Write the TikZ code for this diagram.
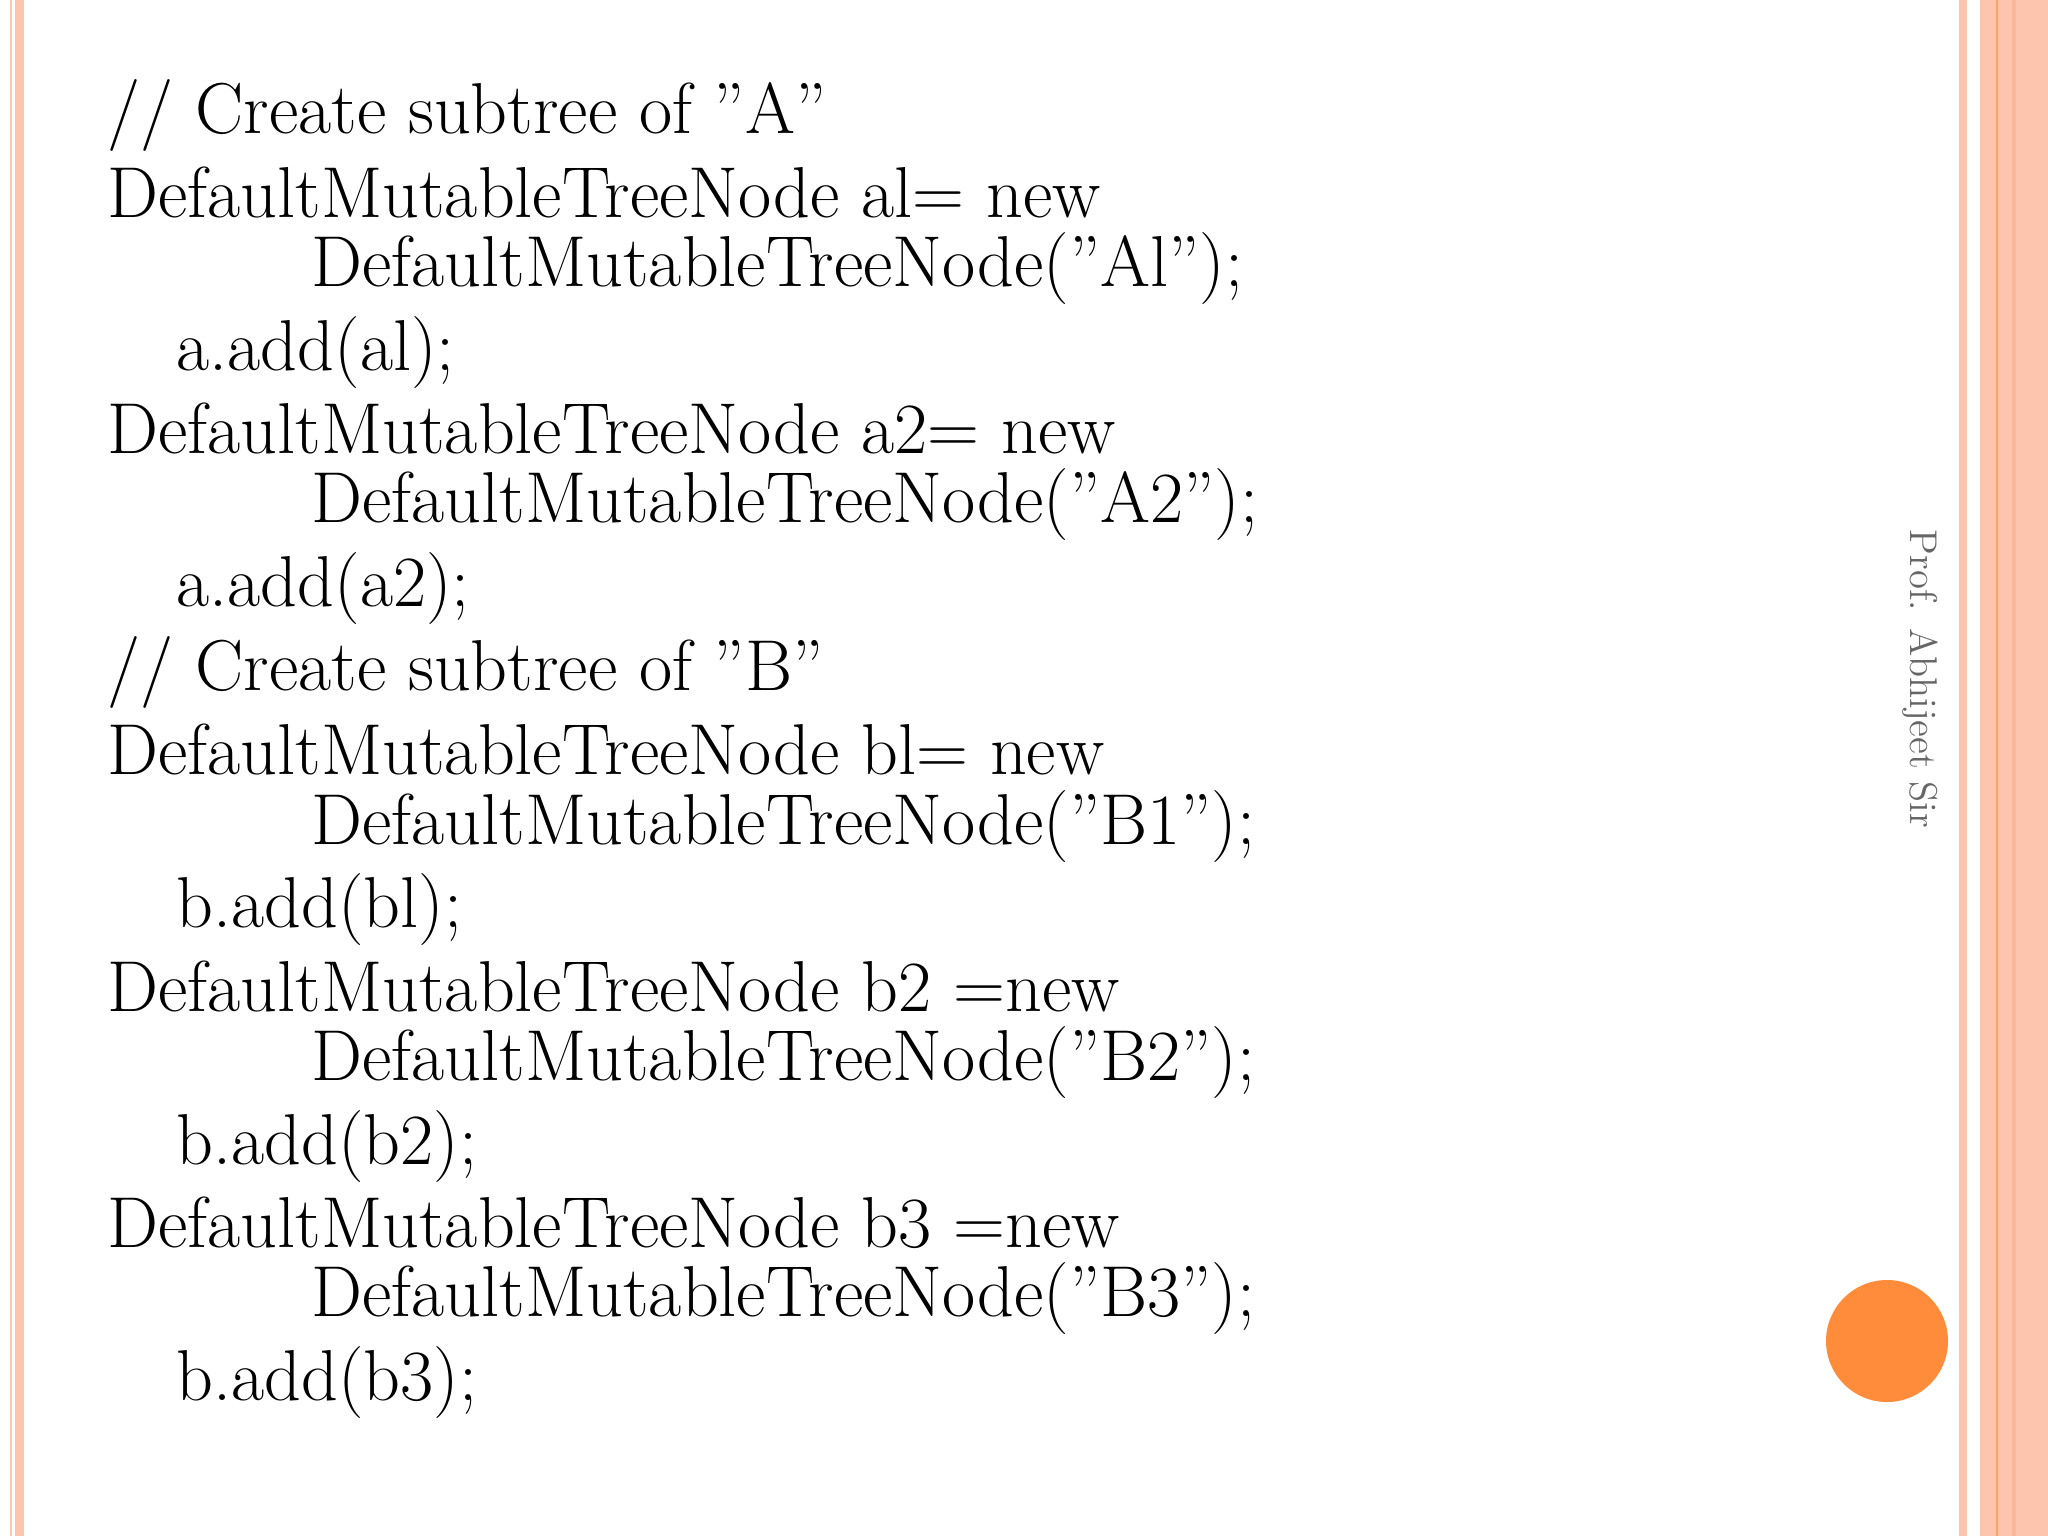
\documentclass[tikz,border=0pt]{standalone}
\usepackage{fontspec}
\definecolor{salm}{HTML}{FDC4AE}
\definecolor{salmd}{HTML}{FBB79C}
\definecolor{org}{HTML}{FF8C3A}
\newcommand{\q}{\symbol{34}}
\begin{document}
\begin{tikzpicture}[x=0.01cm,y=-0.01cm,
  code/.style={anchor=base west,inner sep=0pt,font=\fontsize{20.5}{24}\selectfont}]
\useasboundingbox (0,0) rectangle (2048,1536);
\fill[white] (0,0) rectangle (2048,1536);
\fill[salm] (10,0) rectangle (12,1536);
\fill[salm] (15,0) rectangle (24,1536);
\fill[salm] (1959,0) rectangle (1967,1536);
\fill[salm] (1980,0) rectangle (2048,1536);
\fill[org!80] (1996,0) rectangle (1998,1536);
\fill[salmd] (2012,0) rectangle (2016,1536);
\fill[org] (1887,1341) circle (61);
\node[rotate=-90,text=gray!80!black,font=\fontsize{11}{13}\selectfont] (sig) at (1920,679) {Prof. Abhijeet Sir};
\node[code] (l1) at (107,133) {// Create subtree of \q A\q};
\node[code] (l2) at (107,217) {DefaultMutableTreeNode al= new};
\node[code] (l3) at (311,286) {DefaultMutableTreeNode(\q Al\q);};
\node[code] (l4) at (176,370) {a.add(al);};
\node[code] (l5) at (107,453) {DefaultMutableTreeNode a2= new};
\node[code] (l6) at (311,522) {DefaultMutableTreeNode(\q A2\q);};
\node[code] (l7) at (176,606) {a.add(a2);};
\node[code] (l8) at (107,690) {// Create subtree of \q B\q};
\node[code] (l9) at (107,774) {DefaultMutableTreeNode bl= new};
\node[code] (l10) at (311,844) {DefaultMutableTreeNode(\q B1\q);};
\node[code] (l11) at (176,927) {b.add(bl);};
\node[code] (l12) at (107,1011) {DefaultMutableTreeNode b2 =new};
\node[code] (l13) at (311,1080) {DefaultMutableTreeNode(\q B2\q);};
\node[code] (l14) at (176,1164) {b.add(b2);};
\node[code] (l15) at (107,1247) {DefaultMutableTreeNode b3 =new};
\node[code] (l16) at (311,1316) {DefaultMutableTreeNode(\q B3\q);};
\node[code] (l17) at (176,1400) {b.add(b3);};
\end{tikzpicture}
\end{document}
